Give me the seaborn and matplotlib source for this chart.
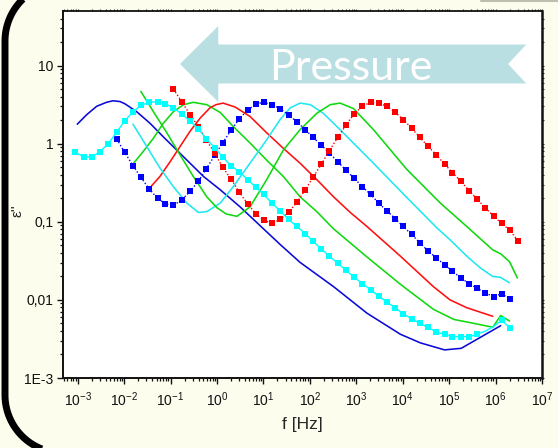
import numpy as np
import matplotlib
matplotlib.use("Agg")
import matplotlib.pyplot as plt
import matplotlib.transforms as mtransforms
from matplotlib.patches import Polygon
from matplotlib.lines import Line2D
from matplotlib.ticker import LogLocator, FixedLocator, FixedFormatter, NullFormatter
import seaborn as sns

# ---------------------------------------------------------------
# Dielectric loss eps''(f) at several pressures (log10 values)
# ---------------------------------------------------------------
# common frequency grid of the sweeps drawn with square markers
LOGF_GRID = [-3.05, -2.87, -2.69, -2.52, -2.34, -2.16, -1.99, -1.81, -1.64, -1.46,
             -1.28, -1.11, -0.94, -0.76, -0.58, -0.40, -0.23, -0.05, 0.12, 0.30,
             0.48, 0.66, 0.84, 1.01, 1.18, 1.36, 1.54, 1.72, 1.90, 2.07,
             2.25, 2.42, 2.60, 2.78, 2.95, 3.13, 3.31, 3.48, 3.66, 3.84,
             4.01, 4.19, 4.37, 4.54, 4.72, 4.90, 5.07, 5.25, 5.43, 5.60,
             5.78, 5.96, 6.13, 6.31, 6.49]

# cyan squares
cyan_sq_logf = LOGF_GRID[0:54]
cyan_sq_loge = [-0.11, -0.17, -0.17, -0.10, 0.00, 0.15, 0.29, 0.41, 0.49, 0.53,
                0.54, 0.51, 0.46, 0.38, 0.29, 0.19, 0.06, -0.05, -0.17, -0.28,
                -0.36, -0.46, -0.56, -0.65, -0.76, -0.86, -0.97, -1.06, -1.15, -1.25,
                -1.35, -1.44, -1.53, -1.62, -1.71, -1.79, -1.87, -1.95, -2.03, -2.10,
                -2.18, -2.24, -2.30, -2.35, -2.41, -2.44, -2.47, -2.47, -2.47, -2.44,
                -2.40, -2.34, -2.26, -2.36]

# blue squares
blue_sq_logf = LOGF_GRID[5:54]
blue_sq_loge = [0.06, -0.11, -0.28, -0.43, -0.58, -0.70, -0.77, -0.79, -0.72, -0.61,
                -0.48, -0.32, -0.15, 0.01, 0.17, 0.32, 0.43, 0.51, 0.53, 0.50,
                0.45, 0.37, 0.28, 0.18, 0.08, -0.02, -0.12, -0.23, -0.34, -0.44,
                -0.55, -0.65, -0.76, -0.86, -0.96, -1.06, -1.16, -1.27, -1.37, -1.46,
                -1.55, -1.63, -1.72, -1.79, -1.85, -1.91, -1.96, -1.92, -1.99]

# red squares
red_sq_logf = LOGF_GRID[12:55]
red_sq_loge = [0.70, 0.54, 0.37, 0.22, 0.05, -0.12, -0.30, -0.45, -0.62, -0.77,
               -0.90, -0.98, -1.02, -0.97, -0.88, -0.75, -0.59, -0.43, -0.26, -0.09,
               0.08, 0.24, 0.38, 0.48, 0.53, 0.52, 0.48, 0.40, 0.31, 0.20,
               0.08, -0.03, -0.14, -0.26, -0.37, -0.48, -0.60, -0.71, -0.82, -0.93,
               -1.02, -1.11, -1.25]

# blue line
blue_ln_logf = [-3.01, -2.81, -2.59, -2.38, -2.24, -2.09, -1.98, -1.73, -1.44, -1.16,
                -0.87, -0.58, -0.29, 0.07, 0.50, 0.93, 1.36, 1.79, 2.51, 3.23,
                3.95, 4.38, 4.90, 5.26, 6.11]
blue_ln_loge = [0.25, 0.37, 0.48, 0.53, 0.55, 0.54, 0.51, 0.41, 0.26, 0.09,
                -0.08, -0.25, -0.42, -0.59, -0.81, -1.05, -1.29, -1.52, -1.83, -2.17,
                -2.44, -2.55, -2.64, -2.62, -2.33]

# first green line
green1_ln_logf = [-1.81, -1.59, -1.37, -1.16, -0.94, -0.72, -0.51, -0.22, 0.07, 0.35,
                  0.71, 1.07, 1.43, 1.79, 2.15, 2.51, 3.23, 3.95, 4.66, 5.10,
                  5.53, 5.94, 6.11, 6.30]
green1_ln_loge = [-0.26, -0.10, 0.07, 0.26, 0.41, 0.50, 0.53, 0.50, 0.40, 0.22,
                  0.01, -0.21, -0.42, -0.68, -0.87, -1.09, -1.45, -1.80, -2.12, -2.25,
                  -2.30, -2.35, -2.20, -2.27]

# red line
red_ln_logf = [-1.44, -1.23, -1.01, -0.80, -0.58, -0.36, -0.15, -0.02, 0.13, 0.39,
               0.71, 1.07, 1.43, 1.79, 2.15, 2.51, 2.87, 3.23, 3.95, 4.66,
               5.02, 5.38, 5.94]
red_ln_loge = [-0.56, -0.42, -0.23, -0.04, 0.16, 0.33, 0.46, 0.50, 0.52, 0.47,
               0.35, 0.14, -0.06, -0.25, -0.46, -0.68, -0.88, -1.06, -1.44, -1.83,
               -2.00, -2.10, -2.21]

# cyan line
cyan_ln_logf = [-1.81, -1.51, -1.23, -0.94, -0.65, -0.40, -0.22, 0.07, 0.35, 0.71,
                1.07, 1.36, 1.58, 1.79, 2.01, 2.29, 2.65, 3.37, 4.09, 4.74,
                5.02, 5.38, 5.67, 5.94, 6.10, 6.30]
cyan_ln_loge = [0.25, -0.04, -0.31, -0.55, -0.76, -0.88, -0.87, -0.76, -0.55, -0.25,
                0.05, 0.31, 0.46, 0.52, 0.50, 0.39, 0.18, -0.25, -0.69, -1.08,
                -1.23, -1.44, -1.59, -1.70, -1.71, -1.78]

# second green line
green2_ln_logf = [-1.64, -1.37, -1.08, -0.80, -0.51, -0.22, 0.00, 0.20, 0.43, 0.71,
                  1.07, 1.43, 1.79, 2.15, 2.44, 2.65, 2.94, 3.37, 4.09, 4.81,
                  5.38, 5.94, 6.11, 6.30, 6.47]
green2_ln_loge = [0.67, 0.41, 0.14, -0.14, -0.42, -0.68, -0.82, -0.90, -0.93, -0.81,
                  -0.46, -0.08, 0.18, 0.39, 0.50, 0.52, 0.45, 0.18, -0.33, -0.76,
                  -1.06, -1.36, -1.41, -1.51, -1.72]

# tick labels
X_TICKS = [1e-3, 1e-2, 1e-1, 1e0, 1e1, 1e2, 1e3, 1e4, 1e5, 1e6, 1e7]
X_TICK_LABELS = [r"$10^{-3}$", r"$10^{-2}$", r"$10^{-1}$", r"$10^{0}$", r"$10^{1}$",
                 r"$10^{2}$", r"$10^{3}$", r"$10^{4}$", r"$10^{5}$", r"$10^{6}$",
                 r"$10^{7}$"]
Y_TICKS = [1e-3, 1e-2, 1e-1, 1e0, 1e1]
Y_TICK_LABELS = ["1E-3", "0,01", "0,1", "1", "10"]

# ---------------------------------------------------------------
sns.set_style("ticks")
plt.rcParams["font.family"] = ["Liberation Sans", "DejaVu Sans"]
plt.rcParams["mathtext.fontset"] = "custom"
plt.rcParams["mathtext.rm"] = "Liberation Sans"
plt.rcParams["mathtext.it"] = "Liberation Sans:italic"

W, H = 558, 448
CREAM = "#fdfdee"
fig = plt.figure(figsize=(W / 100, H / 100), dpi=100)
fig.patch.set_facecolor(CREAM)

ax_l, ax_r, ax_t, ax_b = 63, 542, 11.5, 378
ax = fig.add_axes([ax_l / W, 1 - ax_b / H, (ax_r - ax_l) / W, (ax_b - ax_t) / H])
ax.set_facecolor("white")


def to_xy(logf, loge):
    return 10.0 ** np.asarray(logf), 10.0 ** np.asarray(loge)


LW = 1.15
line_series = [
    (blue_ln_logf, blue_ln_loge, "#0a0ad6"),
    (green1_ln_logf, green1_ln_loge, "#10d810"),
    (red_ln_logf, red_ln_loge, "#ff1010"),
    (cyan_ln_logf, cyan_ln_loge, "#20e8f0"),
    (green2_ln_logf, green2_ln_loge, "#10d810"),
]
for lf, le, col in line_series:
    x, y = to_xy(lf, le)
    sns.lineplot(x=x, y=y, ax=ax, color=col, linewidth=LW, sort=False,
                 estimator=None, solid_joinstyle="round", zorder=3)

MS = 5.0
x, y = to_xy(blue_sq_logf, blue_sq_loge)
sns.lineplot(x=x, y=y, ax=ax, color="#0000ff", linewidth=1.0, linestyle=(0, (1, 1.5)),
             marker="s", markersize=MS, markeredgewidth=0, sort=False, estimator=None,
             zorder=4)
x, y = to_xy(red_sq_logf, red_sq_loge)
sns.lineplot(x=x, y=y, ax=ax, color="#ff0000", linewidth=1.0, linestyle=(0, (1, 1.5)),
             marker="s", markersize=MS, markeredgewidth=0, sort=False, estimator=None,
             zorder=4)
x, y = to_xy(cyan_sq_logf, cyan_sq_loge)
cyan_marks = [i for i in range(len(cyan_sq_logf)) if i not in (50, 51)]
sns.lineplot(x=x, y=y, ax=ax, color="#00ffff", linewidth=1.0,
             marker="s", markersize=MS, markeredgewidth=0, markevery=cyan_marks,
             sort=False, estimator=None, zorder=5)

ax.set_xscale("log")
ax.set_yscale("log")
ax.set_xlim(10 ** -3.317, 1e7)
ax.set_ylim(1e-3, 10 ** 1.693)

ax.xaxis.set_major_locator(FixedLocator(X_TICKS))
ax.xaxis.set_major_formatter(FixedFormatter(X_TICK_LABELS))
ax.yaxis.set_major_locator(FixedLocator(Y_TICKS))
ax.yaxis.set_major_formatter(FixedFormatter(Y_TICK_LABELS))
ax.xaxis.set_minor_locator(LogLocator(base=10, subs=np.arange(2, 10), numticks=30))
ax.yaxis.set_minor_locator(LogLocator(base=10, subs=np.arange(2, 10), numticks=30))
ax.xaxis.set_minor_formatter(NullFormatter())
ax.yaxis.set_minor_formatter(NullFormatter())

for side in ["left", "bottom", "top", "right"]:
    ax.spines[side].set_visible(True)
    ax.spines[side].set_color("#111111")
ax.spines["left"].set_linewidth(1.4)
ax.spines["bottom"].set_linewidth(1.4)
ax.spines["top"].set_linewidth(1.3)
ax.spines["right"].set_linewidth(1.8)

ax.tick_params(axis="both", which="major", direction="out", length=4, width=1.0,
               labelsize=10, colors="#111111", pad=3)
ax.tick_params(axis="both", which="minor", direction="out", length=2.2, width=0.9,
               colors="#111111")
ax.tick_params(axis="x", which="major", pad=5)

# short outward marks on the top and right frame edges
top_ax = ax.secondary_xaxis("top")
top_ax.set_xticks(X_TICKS)
top_ax.xaxis.set_minor_locator(LogLocator(base=10, subs=np.arange(2, 10), numticks=30))
top_ax.tick_params(which="both", direction="out", length=1.5, width=0.8,
                   labeltop=False, colors="#333333")
top_ax.spines["top"].set_visible(False)
right_ax = ax.secondary_yaxis("right")
right_ax.set_yticks(Y_TICKS)
right_ax.yaxis.set_minor_locator(LogLocator(base=10, subs=np.arange(2, 10), numticks=30))
right_ax.tick_params(which="both", direction="out", length=1.5, width=0.8,
                     labelright=False, colors="#333333")
right_ax.spines["right"].set_visible(False)

ax.set_xlabel("f [Hz]", fontsize=12.5, labelpad=6)
ax.set_ylabel("ε''", fontsize=11)
ax.yaxis.set_label_coords(-0.081, 0.456)
ax.grid(False)


# arrow banner indicating increasing pressure
def axfrac(px, py):
    return ((px - ax_l) / (ax_r - ax_l), (ax_b - py) / (ax_b - ax_t))


arrow_pts = [axfrac(180, 64), axfrac(218.3, 26), axfrac(218.3, 44.5),
             axfrac(526.3, 44.5), axfrac(508, 64), axfrac(526.3, 83.5),
             axfrac(218.3, 83.5), axfrac(218.3, 102)]
ax.add_patch(Polygon(arrow_pts, closed=True, transform=ax.transAxes,
                     facecolor="#badfe3", edgecolor="none", zorder=1.5))
tx, ty = axfrac(351, 80)
ax.text(tx, ty, "Pressure", transform=ax.transAxes, ha="center", va="baseline",
        fontsize=31, color="white", family=["Lato", "DejaVu Sans"], fontweight="normal",
        zorder=1.6)

# slide frame: left edge with rounded corners (figure pixel coordinates, y up)
pix = mtransforms.Affine2D().scale(1 / W, 1 / H) + fig.transFigure
R = 58.0
top_c = (63.0, H - 41.0)
bot_c = (63.0, H - 395.0)
t_top = np.linspace(np.pi / 2, np.pi, 40)
t_bot = np.linspace(np.pi, 1.5 * np.pi, 40)
fx = np.concatenate([[700.0], top_c[0] + R * np.cos(t_top),
                     bot_c[0] + R * np.cos(t_bot), [700.0]])
fy = np.concatenate([[top_c[1] + R], top_c[1] + R * np.sin(t_top),
                     bot_c[1] + R * np.sin(t_bot), [bot_c[1] - R]])
fig.add_artist(Line2D(fx, fy, transform=pix, color="black", linewidth=5,
                      solid_joinstyle="round", solid_capstyle="butt"))
fig.add_artist(Line2D([481, 558], [447.5, 447.5], transform=pix, color="#bdbdb0",
                      linewidth=1.5))

fig.savefig("out.png", dpi=100, facecolor=fig.get_facecolor())
